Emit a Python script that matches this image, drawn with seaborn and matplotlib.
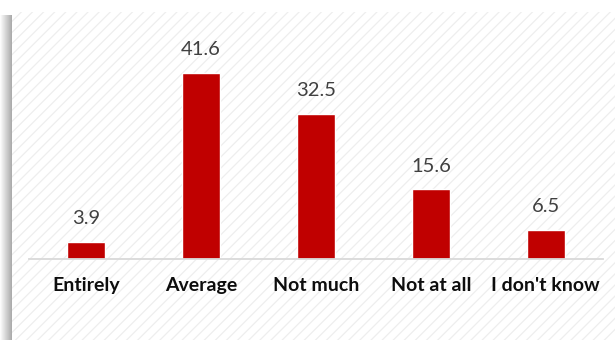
import matplotlib
matplotlib.use("Agg")
import matplotlib.pyplot as plt
from matplotlib.patches import Rectangle
import seaborn as sns
import pandas as pd

categories = ["Entirely", "Average", "Not much", "Not at all", "I don't know"]
values = [3.9, 41.6, 32.5, 15.6, 6.5]

sns.set_theme(style="white")
plt.rcParams["font.family"] = ["Lato", "DejaVu Sans"]
plt.rcParams["hatch.linewidth"] = 0.9

W, H, DPI = 615, 340, 100
fig = plt.figure(figsize=(W / DPI, H / DPI), dpi=DPI)
fig.patch.set_facecolor("white")

# soft shadow along the left edge of the panel
for i in range(12):
    x0 = i
    fig.add_artist(Rectangle((x0 / W, 0), 1 / W, (H - 15) / H,
                             transform=fig.transFigure, facecolor="#7a7a7a",
                             alpha=0.02 + 0.055 * i, edgecolor="none", zorder=-2))

# hatched panel background
fig.add_artist(Rectangle((12 / W, 0), (W - 12) / W, (H - 12) / H,
                         transform=fig.transFigure, facecolor="white",
                         edgecolor="#eeeeee", hatch="///", linewidth=0,
                         zorder=-1))

# axes: baseline at y=259px, x from 29 to 603px
bottom_px, top_px = 259, 20
ax = fig.add_axes([29 / W, (H - bottom_px) / H, (603 - 29) / W, (bottom_px - top_px) / H])
ax.set_zorder(1)
ax.set_facecolor("none")

df = pd.DataFrame({"category": categories, "value": values})
sns.barplot(data=df, x="category", y="value", color="#c00000", width=0.33,
            saturation=1, ax=ax, zorder=2)

ax.set_xlim(-0.5, 4.5)
ax.set_ylim(0, (bottom_px - top_px) / 4.47)

for i, v in enumerate(values):
    ax.annotate(f"{v}", (i, v), xytext=(0, 10.5), textcoords="offset points",
                ha="center", va="bottom", fontsize=14.5, color="#404040")

for s in ["top", "right", "left"]:
    ax.spines[s].set_visible(False)
ax.spines["bottom"].set_color("#d9d9d9")
ax.spines["bottom"].set_linewidth(1.3)
ax.set_yticks([])
ax.set_xlabel("")
ax.set_ylabel("")
ax.tick_params(axis="x", length=0, pad=13)
for lbl in ax.get_xticklabels():
    lbl.set_fontweight("bold")
    lbl.set_fontsize(14)
    lbl.set_color("#0d0d0d")

fig.savefig("out.png", dpi=DPI)
